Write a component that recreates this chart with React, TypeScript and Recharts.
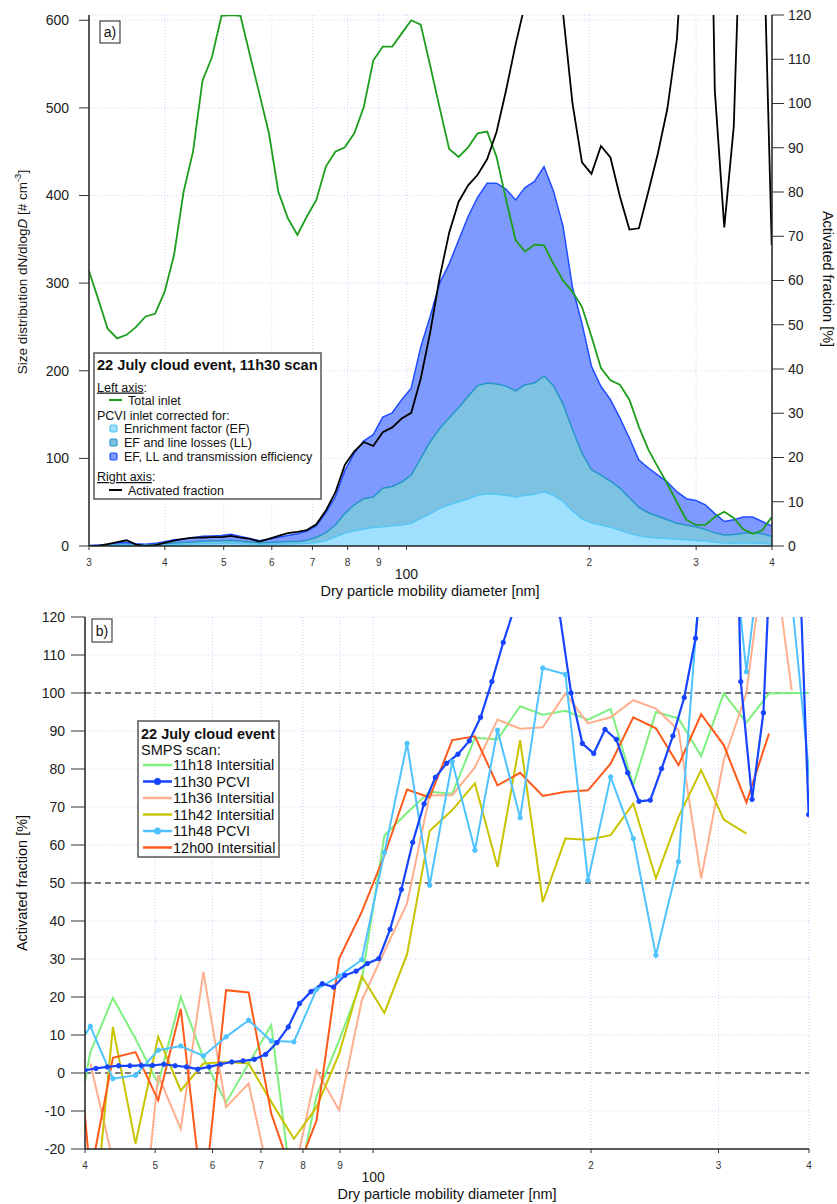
import React from 'react';
import { ComposedChart, Line, Area, XAxis, YAxis, CartesianGrid, ReferenceLine } from 'recharts';

const FONT = '"Liberation Sans", Arial, Helvetica, sans-serif';

// SMPS bin mid-diameters, 64 channels/decade (nm)
const diam64 = [
  29.96, 31.06, 32.2, 33.38, 34.6, 35.87, 37.18, 38.54, 39.96, 41.42, 42.94, 44.51, 46.14, 47.83, 49.58,
  51.4, 53.28, 55.24, 57.26, 59.36, 61.53, 63.78, 66.12, 68.54, 71.05, 73.66, 76.36, 79.15, 82.05, 85.06,
  88.17, 91.4, 94.75, 98.22, 101.82, 105.55, 109.42, 113.42, 117.58, 121.89, 126.35, 130.98, 135.78, 140.75,
  145.91, 151.25, 156.79, 162.54, 168.49, 174.66, 181.06, 187.7, 194.57, 201.7, 209.09, 216.75, 224.69,
  232.92, 241.45, 250.3, 259.47, 268.97, 278.82, 289.04, 299.63, 310.6, 321.98, 333.78, 346.0, 358.68,
  371.82, 385.44, 399.56,
];

// Panel a, left axis [# cm-3]
const totalInlet = [
  315, 282, 248, 237, 241, 250, 262, 265, 290, 332, 404, 450, 531, 558, 605, 606, 605, 560, 516, 471, 404,
  374, 355, 376, 395, 433, 450, 455, 471, 501, 554, 570, 570, 585, 600, 595, 548, 500, 453, 444, 455, 471,
  473, 444, 395, 349, 336, 344, 343, 322, 303, 290, 273, 239, 203, 189, 184, 167, 136, 110, 90, 71, 50, 30,
  24, 24, 33, 39, 32, 19, 14, 18, 33,
];
const efOnly = [
  0.2, 0.3, 0.5, 0.8, 1, 0.8, 0.7, 0.8, 1.2, 1.5, 2, 2.2, 2.5, 2.7, 2.8, 3, 2.6, 2.2, 1.8, 2, 2.2, 2.3, 2.5,
  3, 4, 6, 10.6, 14.5, 17.5, 19.5, 21, 22, 23, 24, 26, 31.6, 37, 43, 47, 50.5, 54, 58, 59.5, 59, 58, 56, 58,
  59, 62, 58, 51, 40, 31, 26.5, 24, 21.5, 18, 14.5, 11.8, 10, 9.2, 8.5, 7.6, 7, 6.4, 5.8, 4.2, 3.3, 3.2, 3.8,
  3.2, 3, 2.3,
];
const efLL = [
  0.3, 0.5, 1, 1.5, 2, 1.5, 1.2, 1.7, 2.5, 3.5, 4, 4.5, 5.5, 6, 6, 6.5, 5.5, 4.5, 3.5, 4, 4.5, 5, 5, 6.5, 10,
  15, 24, 37, 47, 54, 56, 66, 68, 73, 81, 100, 119, 134, 146, 158, 171, 183, 186, 185, 182.5, 177, 184, 186,
  194, 183, 162, 133, 106, 87, 81, 74, 66, 55, 44, 38, 34, 30, 26, 24, 22, 19, 15, 12.5, 13, 14.5, 15, 14, 11,
];
const efLLTE = [
  0.5, 1, 2, 3.5, 4, 2.5, 2, 3, 5, 7, 8, 9.5, 11, 11.5, 12, 13.5, 11, 8.5, 6, 8, 10, 12, 14, 17, 23, 38, 56,
  86, 106, 120, 127, 147, 152, 167, 180, 227, 262, 300, 322, 349, 376, 398, 414, 414, 407, 395, 409, 416,
  433, 405, 365, 295, 254, 205, 182, 167, 146, 123, 98, 89, 81, 73, 62, 54, 52, 47, 37, 28, 30, 33, 33, 28, 23,
];
// 11h30 PCVI activated fraction [%]
const activated1130 = [
  0, 0, 0.4, 0.9, 1.3, 0.3, 0, 0.2, 0.7, 1.2, 1.6, 1.9, 1.9, 2.0, 2.0, 2.3, 1.9, 1.6, 1.0, 1.6, 2.3, 2.9,
  3.2, 3.6, 4.9, 8.0, 12.1, 18.3, 21.4, 23.5, 22.6, 25.7, 26.8, 28.8, 30.1, 37.8, 48.3, 60.7, 70.8, 77.8,
  81.5, 83.9, 87.4, 93.6, 103, 113.3, 122.5, 140, 150, 140, 120.5, 100, 86.7, 84.1, 90.4, 87.8, 79, 71.5,
  71.8, 80.1, 88.7, 98.8, 114.4, 148, 200, 230, 103, 72, 94.8, 162, 200, 150, 68,
];

// SMPS bin mid-diameters, 32 channels/decade (nm)
const diam32 = [
  37.85, 40.68, 43.71, 46.97, 50.48, 54.24, 58.29, 62.64, 67.31, 72.33, 77.73, 83.53, 89.76, 96.46, 103.66,
  111.39, 119.7, 128.63, 138.23, 148.54, 159.62, 171.53, 184.33, 198.08, 212.86, 228.74, 245.8, 264.14,
  283.84, 305.02, 327.78, 352.23, 378.51, 406.75,
];
const af1118 = [
  -27, 5.4, 19.8, 9, -2.8, 20, 4, -7.8, 2.5, 12.6, -35, -6, 8.6, 24.4, 62.5, 68.5, 74, 73.5, 88.2, 87.8,
  96.5, 94.3, 95.3, 93, 95.8, 75.7, 95, 93.3, 83.4, 99.9, 92.2, 99.9, 100, 100,
];
const af1136 = [
  null, 2.5, -23, -60, -0.6, -14.7, 26.6, -9, -2.8, -30, -27, 0.7, -9.8, 19.1, 32, 44.6, 73.1, 73.1, 80.4,
  93, 90.6, 91, 99.9, 92, 93.6, 98.1, 95.9, 90.2, 51.2, 82.3, 100, 146, 100.8, null,
];
const af1142 = [
  null, -50, 12.1, -18.6, 9.5, -4.6, 2.5, 2.9, 2.5, -7.6, -17.3, -9, 5.1, 25.5, 15.8, 31.2, 63.7, 69.2, 76.2,
  54.2, 87.6, 45, 61.7, 61.4, 62.6, 70.9, 51.2, 67.4, 79.7, 66.7, 63, null, null, null,
];
const af1148 = [
  2.4, 12.3, -1.5, -0.6, 6, 7.1, 4.5, 9.5, 13.9, 8.4, 8.2, 22, 25.5, 29.8, 58, 86.7, 49.4, 81.9, 58.6, 90.2,
  67.2, 106.6, 104.9, 50.7, 77.9, 61.7, 31, 55.6, 134, 163, 105.6, 154, 125, 65,
];
const af1200 = [
  40, -27, 4.0, 5.5, -7.2, 16.9, -35, 21.8, 21.2, -10.7, -28, -12.5, 30.1, 42.4, 57.3, 74.6, 72.5, 87.6,
  88.6, 75.7, 79, 72.9, 74, 74.4, 81.4, 93.6, 90.7, 81, 94.4, 86.3, 71.2, 89.3, null, null,
];

const xTicksA = [30, 40, 50, 60, 70, 80, 90, 100, 200, 300, 400];
const xTicksB = [40, 50, 60, 70, 80, 90, 100, 200, 300, 400];
const yTicksLeftA = [0, 100, 200, 300, 400, 500, 600];
const yTicksRightA = [0, 10, 20, 30, 40, 50, 60, 70, 80, 90, 100, 110, 120];
const yTicksB = [-20, -10, 0, 10, 20, 30, 40, 50, 60, 70, 80, 90, 100, 110, 120];

const C = {
  green: '#1C9E1C',
  teFill: '#7E9AFF', teLine: '#1F4CFF',
  llFill: '#7EC2E2', llLine: '#2596C8',
  efFill: '#9FE0FF', efLine: '#55C6F5',
  c1118: '#7FEF7F', c1130: '#1744FF', c1136: '#FFAE8E', c1142: '#C8C400', c1148: '#4FC3FF', c1200: '#FF5A1A',
  grid: '#D2D2F6',
};

const panelAData = diam64.map((d, i) => ({
  d, total: totalInlet[i], ef: efOnly[i], ll: efLL[i], te: efLLTE[i], af: activated1130[i],
}));
const pcvi1130 = diam64.map((d, i) => ({ d, v: activated1130[i] })).filter((p) => p.d >= 39);
const series32 = (vals: (number | null)[]) =>
  diam32.map((d, i) => ({ d, v: vals[i] })).filter((p) => p.v !== null);

const makeXTick = (smallDy: number, bigDy: number) => (props: any) => {
  const { x, y, payload } = props;
  const v = payload.value;
  if (v === 100) {
    return (
      <text x={x} y={y + bigDy} textAnchor="middle" fontSize={14} fill="#222" fontFamily={FONT}>100</text>
    );
  }
  return (
    <text x={x} y={y + smallDy} textAnchor="middle" fontSize={10} fill="#333" fontFamily={FONT}>
      {String(v).charAt(0)}
    </text>
  );
};

const tickStyle = { fontSize: 14, fill: '#222', fontFamily: FONT };
const axisLine = { stroke: '#222', strokeWidth: 1.5 };
const tickLine = { stroke: '#333', strokeWidth: 1 };

function PanelA() {
  return (
    <ComposedChart width={837} height={600} data={panelAData} margin={{ top: 15, right: 0, bottom: 0, left: 0 }}>
      <CartesianGrid yAxisId="left" stroke={C.grid} strokeDasharray="1 2" />
      <XAxis dataKey="d" type="number" scale="log" domain={[30, 400]} allowDataOverflow ticks={xTicksA}
        interval={0} height={54} tickSize={4} tickMargin={2} axisLine={axisLine} tickLine={tickLine}
        tick={makeXTick(13.5, 27)} />
      <YAxis yAxisId="left" type="number" domain={[0, 606]} allowDataOverflow ticks={yTicksLeftA} interval={0}
        width={89} tickSize={10} tickMargin={10} axisLine={axisLine} tickLine={tickLine} tick={tickStyle} />
      <YAxis yAxisId="right" orientation="right" type="number" domain={[0, 120]} allowDataOverflow
        ticks={yTicksRightA} interval={0} width={65} tickSize={12} tickMargin={4} axisLine={axisLine}
        tickLine={tickLine} tick={tickStyle} />
      <Area yAxisId="left" type="linear" dataKey="te" fill={C.teFill} fillOpacity={1} stroke={C.teLine}
        strokeWidth={1.5} isAnimationActive={false} />
      <Area yAxisId="left" type="linear" dataKey="ll" fill={C.llFill} fillOpacity={1} stroke={C.llLine}
        strokeWidth={1.5} isAnimationActive={false} />
      <Area yAxisId="left" type="linear" dataKey="ef" fill={C.efFill} fillOpacity={1} stroke={C.efLine}
        strokeWidth={1.5} isAnimationActive={false} />
      <Line yAxisId="left" type="linear" dataKey="total" stroke={C.green} strokeWidth={1.8} dot={false}
        isAnimationActive={false} />
      <Line yAxisId="right" type="linear" dataKey="af" stroke="#000" strokeWidth={1.8} dot={false}
        isAnimationActive={false} />
    </ComposedChart>
  );
}

function PanelB() {
  const dot = (c: string) => ({ r: 2.2, fill: c, stroke: c, strokeWidth: 1 });
  return (
    <ComposedChart width={837} height={604} margin={{ top: 17, right: 28, bottom: 0, left: 0 }}>
      <CartesianGrid stroke={C.grid} strokeDasharray="1 2" />
      <XAxis dataKey="d" type="number" scale="log" domain={[40, 400]} allowDataOverflow ticks={xTicksB}
        interval={0} height={55} tickSize={4} tickMargin={2} axisLine={axisLine} tickLine={tickLine}
        tick={makeXTick(13.8, 26.5)} />
      <YAxis type="number" domain={[-20, 120]} allowDataOverflow ticks={yTicksB} interval={0} width={85}
        tickSize={14} tickMargin={6} axisLine={axisLine} tickLine={tickLine} tick={tickStyle} />
      <ReferenceLine y={0} stroke="#555" strokeDasharray="6 4" strokeWidth={1.5} />
      <ReferenceLine y={50} stroke="#555" strokeDasharray="6 4" strokeWidth={1.5} />
      <ReferenceLine y={100} stroke="#555" strokeDasharray="6 4" strokeWidth={1.5} />
      <Line data={series32(af1118)} dataKey="v" type="linear" stroke={C.c1118} strokeWidth={2} dot={false}
        isAnimationActive={false} />
      <Line data={series32(af1136)} dataKey="v" type="linear" stroke={C.c1136} strokeWidth={2} dot={false}
        isAnimationActive={false} />
      <Line data={series32(af1142)} dataKey="v" type="linear" stroke={C.c1142} strokeWidth={2} dot={false}
        isAnimationActive={false} />
      <Line data={series32(af1200)} dataKey="v" type="linear" stroke={C.c1200} strokeWidth={2} dot={false}
        isAnimationActive={false} />
      <Line data={series32(af1148)} dataKey="v" type="linear" stroke={C.c1148} strokeWidth={2}
        dot={dot(C.c1148)} isAnimationActive={false} />
      <Line data={pcvi1130} dataKey="v" type="linear" stroke={C.c1130} strokeWidth={2.2} dot={dot(C.c1130)}
        isAnimationActive={false} />
    </ComposedChart>
  );
}

function Overlay() {
  const t = { fontFamily: FONT, fill: '#111' };
  const rowsB = [
    { y: 765, c: C.c1118, label: '11h18 Intersitial', m: false },
    { y: 781.5, c: C.c1130, label: '11h30 PCVI', m: true },
    { y: 798, c: C.c1136, label: '11h36 Intersitial', m: false },
    { y: 814.5, c: C.c1142, label: '11h42 Intersitial', m: false },
    { y: 831, c: C.c1148, label: '11h48 PCVI', m: true },
    { y: 847.5, c: C.c1200, label: '12h00 Intersitial', m: false },
  ];
  return (
    <svg width={837} height={1204} style={{ position: 'absolute', left: 0, top: 0, pointerEvents: 'none' }}>
      {/* panel a labels */}
      <rect x={100} y={21} width={20} height={22} fill="#fff" stroke="#444" strokeWidth={1.2} />
      <text x={110} y={37} textAnchor="middle" fontSize={14} {...t}>a)</text>
      <text x={430} y={596} textAnchor="middle" fontSize={14.5} {...t}>Dry particle mobility diameter [nm]</text>
      <text x={27} y={272} transform="rotate(-90 27 272)" textAnchor="middle" fontSize={13.5} {...t}>
        Size distribution dN/dlog<tspan fontStyle="italic">D</tspan> [# cm<tspan dy={-6} fontSize={9.5}>-3</tspan><tspan dy={6}>]</tspan>
      </text>
      <text x={823} y={279} transform="rotate(90 823 279)" textAnchor="middle" fontSize={14.5} {...t}>Activated fraction [%]</text>

      {/* panel a legend */}
      <rect x={94} y={353} width={227} height={146} fill="#fff" stroke="#555" strokeWidth={1.5} />
      <text x={97} y={370} fontSize={14.6} fontWeight="bold" {...t}>22 July cloud event, 11h30 scan</text>
      <text x={97} y={391.5} fontSize={12.5} {...t}><tspan style={{ textDecoration: 'underline' }}>Left axis</tspan>:</text>
      <line x1={109} x2={122} y1={400} y2={400} stroke={C.green} strokeWidth={2} />
      <text x={128} y={404.5} fontSize={12.5} {...t}>Total inlet</text>
      <text x={97} y={419.5} fontSize={12.5} {...t}>PCVI inlet corrected for:</text>
      <rect x={110} y={425} width={7} height={7} rx={1.5} fill={C.efFill} stroke={C.efLine} strokeWidth={1.2} />
      <text x={124} y={433} fontSize={12.5} {...t}>Enrichment factor (EF)</text>
      <rect x={110} y={439} width={7} height={7} rx={1.5} fill={C.llFill} stroke={C.llLine} strokeWidth={1.2} />
      <text x={124} y={447} fontSize={12.5} {...t}>EF and line losses (LL)</text>
      <rect x={110} y={453} width={7} height={7} rx={1.5} fill={C.teFill} stroke={C.teLine} strokeWidth={1.2} />
      <text x={124} y={461} fontSize={12.5} {...t}>EF, LL and transmission efficiency</text>
      <text x={97} y={481} fontSize={12.5} {...t}><tspan style={{ textDecoration: 'underline' }}>Right axis</tspan>:</text>
      <line x1={109} x2={122} y1={490} y2={490} stroke="#000" strokeWidth={2} />
      <text x={128} y={494.5} fontSize={12.5} {...t}>Activated fraction</text>

      {/* panel b labels */}
      <rect x={92} y={619} width={20} height={23} fill="#fff" stroke="#444" strokeWidth={1.2} />
      <text x={102} y={635.5} textAnchor="middle" fontSize={14} {...t}>b)</text>
      <text x={447} y={1199} textAnchor="middle" fontSize={14.5} {...t}>Dry particle mobility diameter [nm]</text>
      <text x={27} y={883} transform="rotate(-90 27 883)" textAnchor="middle" fontSize={14.5} {...t}>Activated fraction [%]</text>

      {/* panel b legend */}
      <rect x={138} y={721} width={141} height={136} fill="#fff" stroke="#555" strokeWidth={1.5} />
      <text x={141} y={738.5} fontSize={14.5} fontWeight="bold" {...t}>22 July cloud event</text>
      <text x={141} y={755} fontSize={14.5} {...t}>SMPS scan:</text>
      {rowsB.map((r) => (
        <g key={r.label}>
          <line x1={143} x2={172} y1={r.y} y2={r.y} stroke={r.c} strokeWidth={2.5} />
          {r.m && <circle cx={157.5} cy={r.y} r={3.5} fill={r.c} />}
          <text x={173} y={r.y + 5} fontSize={14.5} {...t}>{r.label}</text>
        </g>
      ))}
    </svg>
  );
}

export default function App() {
  return (
    <div style={{ position: 'absolute', left: 0, top: 0, width: 837, height: 1204, background: '#fff' }}>
      <div style={{ position: 'absolute', left: 0, top: 0 }}>
        <PanelA />
      </div>
      <div style={{ position: 'absolute', left: 0, top: 600 }}>
        <PanelB />
      </div>
      <Overlay />
    </div>
  );
}
